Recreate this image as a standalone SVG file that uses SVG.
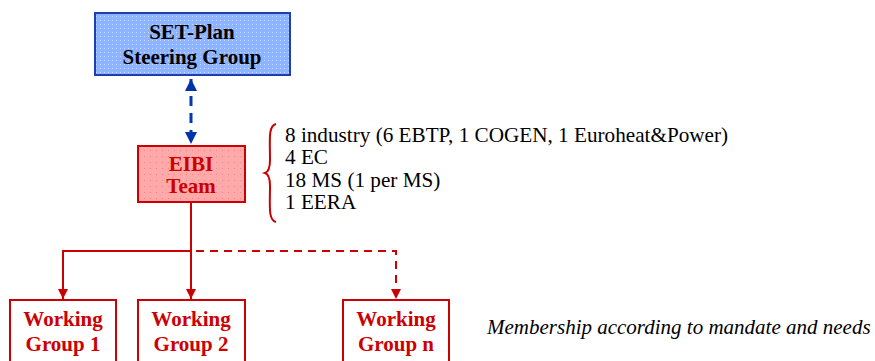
<svg xmlns="http://www.w3.org/2000/svg" width="875" height="361" viewBox="0 0 875 361">
<style>
.t{font-family:"Liberation Serif","Times New Roman",serif;}
.b{font-weight:bold;font-size:21px;text-anchor:middle;}
.red{fill:#cc0000;}
.wg{fill:#ffffff;stroke:#cc0000;stroke-width:2;}
.conn{stroke:#cc0000;stroke-width:2;fill:none;}
.lst{font-size:21.2px;fill:#000;}
</style>
<defs>
<pattern id="dots" width="4" height="4" patternUnits="userSpaceOnUse">
<rect width="4" height="4" fill="#8fb4ff"/>
<rect x="0" y="0" width="1" height="1" fill="#c8dcff"/>
</pattern>
<pattern id="pdots" width="6" height="6" patternUnits="userSpaceOnUse">
<rect width="6" height="6" fill="#ffaaaa"/>
<rect x="0" y="0" width="1" height="1" fill="#ff8080"/>
</pattern>
<marker id="ar" viewBox="0 0 10 10" refX="10" refY="5" markerWidth="5" markerHeight="5" orient="auto-start-reverse" markerUnits="strokeWidth">
<path d="M0,0 L10,5 L0,10 z" fill="#cc0000"/>
</marker>
<marker id="ab" viewBox="0 0 10 10" refX="10" refY="5" markerWidth="4" markerHeight="4" orient="auto-start-reverse" markerUnits="strokeWidth">
<path d="M0,0 L10,5 L0,10 z" fill="#0033aa"/>
</marker>
</defs>
<g id="connectors">
<line x1="191" y1="79" x2="191" y2="144" stroke="#0039b0" stroke-width="3" stroke-dasharray="10,7" marker-start="url(#ab)" marker-end="url(#ab)"/>
<polyline class="conn" points="191,202 191,251"/>
<polyline class="conn" points="191,251 63,251 63,299" marker-end="url(#ar)"/>
<line class="conn" x1="191" y1="251" x2="191" y2="299" marker-end="url(#ar)"/>
<polyline class="conn" points="196,251 396,251 396,299" stroke-dasharray="8,6" marker-end="url(#ar)"/>
</g>
<g id="set-plan">
<rect x="95" y="13" width="195" height="62" fill="url(#dots)" stroke="#1f3fb0" stroke-width="2"/>
<text class="t b" x="192" y="39" fill="#000">SET-Plan</text>
<text class="t b" x="192" y="64" fill="#000">Steering Group</text>
</g>
<g id="eibi">
<rect x="138" y="146" width="107" height="56" fill="url(#pdots)" stroke="#cc0000" stroke-width="2"/>
<text class="t b red" x="191" y="171">EIBI</text>
<text class="t b red" x="191" y="193">Team</text>
</g>
<g id="members">
<path d="M276,124 C268,126 270,140 270,160 C270,168 268,172 265,173 C268,174 270,178 270,186 C270,206 268,220 276,222" fill="none" stroke="#cc0000" stroke-width="2"/>
<text class="t lst" x="285" y="142">8 industry (6 EBTP, 1 COGEN, 1 Euroheat&amp;Power)</text>
<text class="t lst" x="285" y="164">4 EC</text>
<text class="t lst" x="285" y="187">18 MS (1 per MS)</text>
<text class="t lst" x="285" y="209">1 EERA</text>
</g>
<g id="wg1">
<rect class="wg" x="10" y="300" width="106" height="70"/>
<text class="t b red" x="63" y="326">Working</text>
<text class="t b red" x="63" y="351">Group 1</text>
</g>
<g id="wg2">
<rect class="wg" x="138" y="300" width="107" height="70"/>
<text class="t b red" x="191" y="326">Working</text>
<text class="t b red" x="191" y="351">Group 2</text>
</g>
<g id="wgn">
<rect class="wg" x="343" y="300" width="106" height="70"/>
<text class="t b red" x="396" y="326">Working</text>
<text class="t b red" x="396" y="351">Group n</text>
</g>
<text class="t" x="487" y="334" font-size="21" font-style="italic" fill="#000">Membership according to mandate and needs</text>
</svg>
